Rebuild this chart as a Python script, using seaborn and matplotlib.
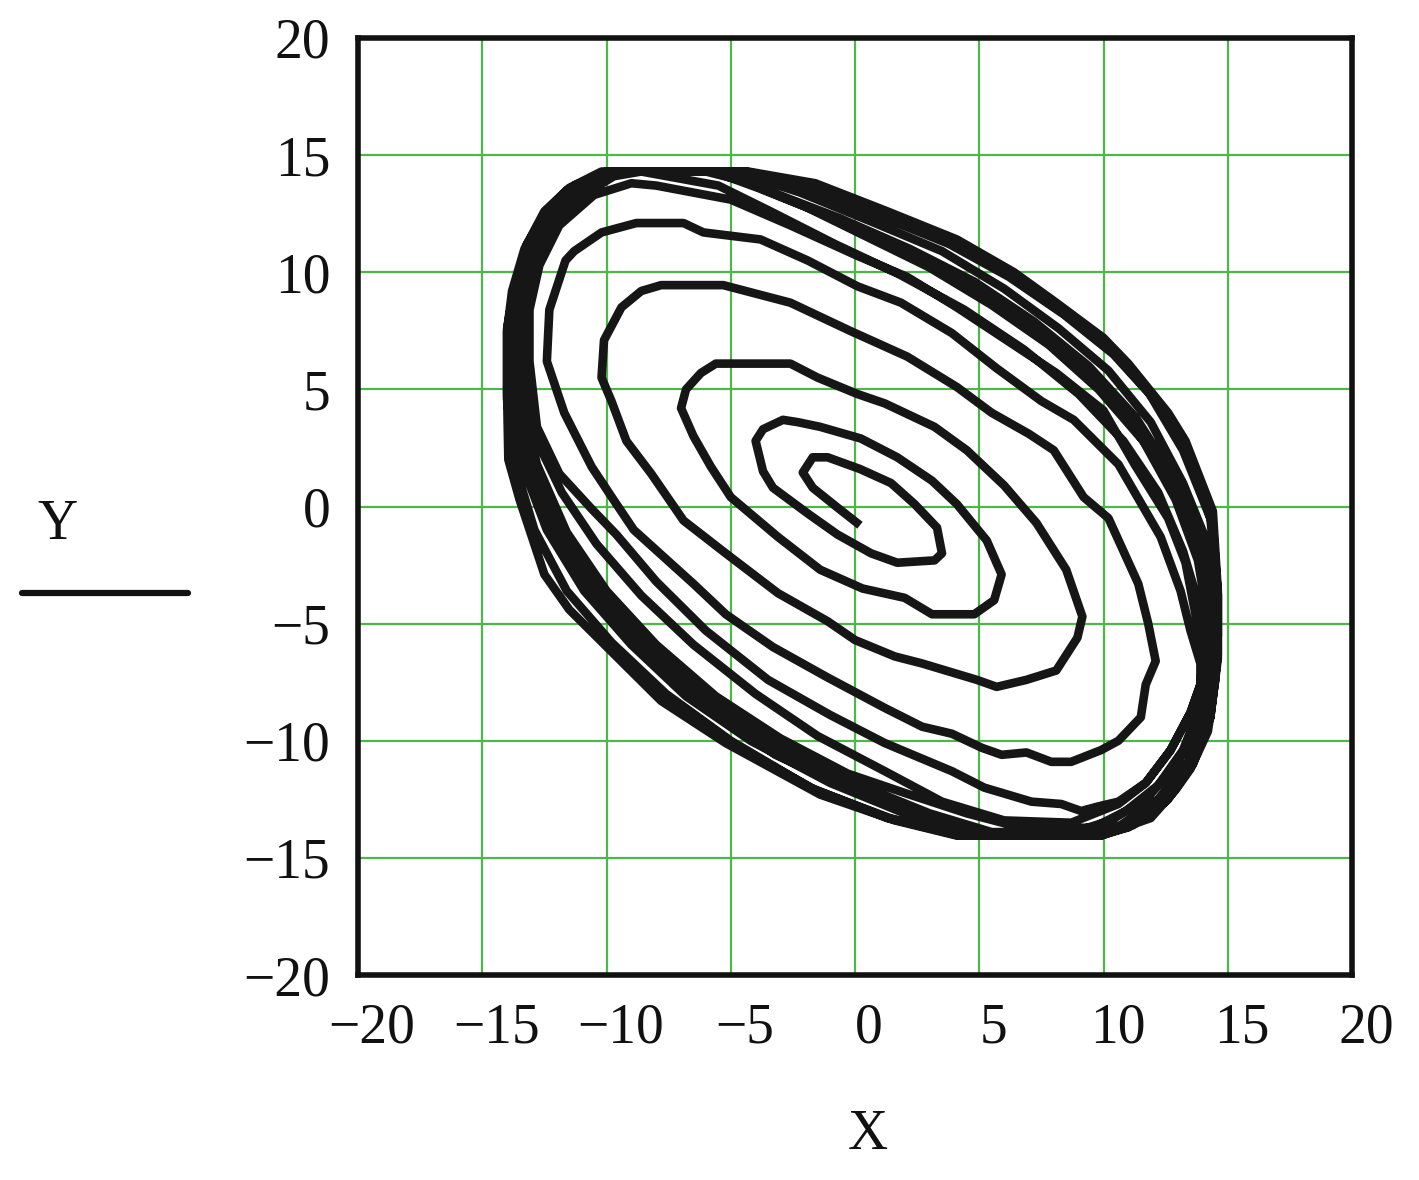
import numpy as np
import pandas as pd
import matplotlib
matplotlib.use("Agg")
import matplotlib.pyplot as plt
import matplotlib.transforms as mtransforms
from matplotlib.lines import Line2D
import seaborn as sns

# ---- data: spiral trajectory, read turn by turn (clockwise) ----
turn1_x = [0.2, -0.7, -1.7, -2.1, -1.7, -1.1, 0.2, 1.45, 2.4, 3.3, 3.5, 3.2, 1.7, 0.65, -0.7, -1.9, -3.3, -3.7, -4.0]
turn1_y = [-0.8, -0.05, 0.8, 1.45, 2.1, 2.1, 1.6, 1.0, 0.1, -0.9, -2.0, -2.3, -2.4, -2.0, -1.2, -0.3, 0.8, 1.5, 2.8]

turn2_x = [-3.7, -2.9, -2.3, -1.4, 0.24, 1.7, 3.1, 4.1, 5.3, 5.9, 5.6, 4.8, 3.1, 2.0, 0.3, -1.4, -3.1, -5.0, -5.8, -6.5, -7.0]
turn2_y = [3.3, 3.7, 3.6, 3.4, 2.9, 2.1, 1.1, 0.1, -1.45, -2.9, -4.0, -4.6, -4.6, -3.9, -3.5, -2.7, -1.3, 0.4, 1.7, 3.0, 4.2]

turn3_x = [-6.8, -6.2, -5.6, -2.6, -1.5, 0.1, 1.2, 3.2, 4.5, 6.0, 7.3, 8.5, 9.15, 8.95, 8.1, 6.9, 5.7, 4.9, 2.7, 1.6, 0.0, -1.1, -3.1, -5.2, -6.9, -8.2, -9.2, -9.8, -10.2]
turn3_y = [5.0, 5.7, 6.1, 6.1, 5.5, 4.8, 4.4, 3.4, 2.4, 0.9, -0.7, -2.7, -4.7, -5.6, -7.0, -7.4, -7.7, -7.4, -6.7, -6.4, -5.7, -4.9, -3.7, -2.0, -0.6, 1.4, 2.8, 4.5, 5.5]

turn4_x = [-10.1, -9.4, -8.6, -7.8, -5.3, -2.6, -0.2, 2.1, 4.1, 5.5, 7.0, 8.0, 9.2, 10.2, 11.4, 11.8, 12.1, 11.7, 11.5, 10.6, 9.9, 8.7, 7.9, 6.9, 5.9, 5.1, 3.9, 2.7, 1.2, -1.1, -3.3, -5.2, -6.5, -8.9, -9.7, -10.6, -11.7, -12.4]
turn4_y = [7.1, 8.5, 9.2, 9.45, 9.45, 8.7, 7.5, 6.4, 5.1, 4.0, 3.1, 2.4, 0.4, -0.5, -3.3, -5.0, -6.6, -7.6, -9.0, -10.0, -10.4, -10.9, -10.9, -10.5, -10.6, -10.3, -9.7, -9.4, -8.6, -7.3, -6.0, -4.6, -3.3, -1.0, 0.26, 1.7, 4.0, 6.2]

turn5_x = [-12.3, -11.65, -11.3, -10.2, -8.8, -6.9, -6.1, -3.8, -1.9, 0.1, 1.85, 3.9, 5.7, 7.5, 8.8, 10.6, 12.3, 13.1, 13.5, 13.9, 13.9, 13.5, 12.7, 11.7, 10.6, 9.8, 9.1, 8.3, 7.1, 5.2, 3.9, 1.2, -1.0, -3.5, -6.0, -8.0, -9.6, -10.6, -11.9, -12.8, -13.1]
turn5_y = [8.4, 10.5, 10.9, 11.7, 12.1, 12.1, 11.7, 11.4, 10.5, 9.4, 8.7, 7.4, 5.9, 4.5, 3.7, 1.8, -1.3, -3.6, -5.3, -6.7, -7.6, -8.8, -10.4, -11.8, -12.6, -12.8, -13.0, -12.7, -12.6, -12.0, -11.3, -10.1, -8.9, -7.4, -5.3, -3.2, -1.2, -0.1, 1.4, 3.4, 6.2]

turn6_x = [-13.1, -12.7, -11.9, -10.5, -9.0, -8.0, -5.0, -2.6, 0.1, 2.1, 4.1, 6.1, 8.1, 10.0, 11.25, 12.6, 13.3, 13.7, 14.0, 13.9, 13.5, 12.7, 11.7, 10.6, 8.7, 6.0, 3.5, 1.2, -1.5, -4.0, -6.5, -8.6, -10.4, -11.8, -12.8, -13.3]
turn6_y = [8.4, 10.3, 12.0, 13.3, 13.8, 13.7, 13.1, 12.0, 10.7, 9.8, 8.5, 7.1, 5.7, 4.1, 1.8, -0.5, -2.4, -4.6, -6.3, -7.6, -8.8, -10.4, -11.8, -12.7, -13.5, -13.4, -12.6, -11.3, -9.8, -8.0, -5.9, -3.8, -1.6, 0.6, 2.8, 5.0]

turn7_x = [-13.3, -13.0, -12.3, -11.1, -9.7, -8.6, -5.5, -3.4, -0.8, 1.8, 4.4, 6.8, 9.0, 10.8, 12.2, 13.2, 13.9, 14.1, 13.9, 13.2, 12.2, 10.9, 9.6, 7.0, 4.5, 2.2, -0.3, -3.0, -5.6, -8.0, -10.0, -11.6, -12.8, -13.4]
turn7_y = [8.0, 10.0, 11.8, 13.2, 14.1, 14.3, 13.7, 12.6, 11.2, 9.9, 8.4, 6.7, 4.8, 2.8, 0.6, -1.9, -4.4, -6.7, -8.5, -10.4, -11.9, -13.0, -13.7, -13.8, -13.1, -12.3, -11.4, -9.9, -8.1, -5.9, -3.6, -1.1, 1.8, 4.6]

turn8_x = [-13.5, -13.2, -12.6, -11.6, -10.3, -9.3, -6.0, -4.5, -2.0, 0.5, 3.0, 5.5, 7.8, 9.8, 11.6, 12.9, 13.8, 14.2, 14.3, 13.9, 13.0, 11.8, 10.3, 8.8, 5.5, 3.0, 0.2, -2.8, -5.4, -7.8, -9.9, -11.6, -12.9, -13.6]
turn8_y = [7.5, 9.8, 11.5, 12.9, 13.9, 14.3, 14.3, 13.9, 12.8, 11.5, 10.2, 8.6, 6.9, 5.0, 2.8, 0.3, -2.3, -4.8, -7.0, -9.0, -10.9, -12.4, -13.4, -13.9, -13.9, -13.1, -11.9, -10.3, -8.5, -6.5, -4.2, -1.6, 1.2, 4.0]

turn9_x = [-13.6, -13.3, -12.7, -11.7, -10.4, -9.4, -5.7, -3.9, -1.3, 1.4, 3.9, 6.4, 8.6, 10.6, 12.2, 13.5, 14.2, 14.4, 14.1, 13.4, 12.2, 10.7, 9.4, 5.3, 2.7, -0.1, -3.2, -5.8, -8.2, -10.3, -12.0, -13.1, -13.7]
turn9_y = [7.3, 9.6, 11.4, 12.9, 13.9, 14.3, 14.3, 13.6, 12.5, 11.2, 9.9, 8.2, 6.4, 4.3, 1.9, -0.9, -3.6, -6.3, -8.9, -10.9, -12.5, -13.6, -14.0, -14.0, -13.2, -12.1, -10.6, -8.7, -6.6, -4.2, -1.4, 1.5, 4.3]

turn10_x = [-13.7, -13.4, -12.8, -11.8, -10.5, -9.5, -5.4, -3.3, -0.6, 2.2, 4.8, 7.2, 9.4, 11.3, 12.8, 13.9, 14.4, 14.5, 14.2, 13.5, 12.3, 10.9, 9.6, 5.2, 2.5, -0.4, -3.5, -6.2, -8.6, -10.6, -12.2, -13.3, -13.8]
turn10_y = [7.2, 9.5, 11.4, 12.9, 14.0, 14.3, 14.3, 13.4, 12.3, 11.0, 9.6, 7.9, 6.0, 3.8, 1.3, -1.5, -4.4, -7.0, -9.2, -11.1, -12.7, -13.7, -14.0, -14.0, -13.2, -12.0, -10.2, -8.3, -6.1, -3.7, -1.1, 1.7, 4.5]

turn11_x = [-13.8, -13.6, -13.0, -12.0, -10.6, -9.6, -4.8, -2.2, 0.8, 3.5, 6.0, 8.2, 10.2, 11.9, 13.2, 14.2, 14.5, 14.5, 14.1, 13.3, 12.0, 10.5, 9.5, 5.0, 2.0, -1.0, -4.2, -6.8, -9.0, -10.9, -12.4, -13.4, -13.9]
turn11_y = [7.0, 9.2, 11.2, 12.8, 14.0, 14.3, 14.3, 13.4, 12.1, 10.9, 9.3, 7.6, 5.8, 3.6, 1.0, -1.6, -4.4, -7.0, -9.3, -11.2, -12.8, -13.8, -14.05, -14.05, -13.1, -11.8, -10.0, -8.1, -5.9, -3.6, -1.0, 1.8, 4.6]

turn12_x = [-14.0, -13.75, -13.2, -12.4, -11.6, -9.8, -4.3, -1.6, 1.3, 4.1, 6.4, 8.1, 10.0, 11.0, 12.6, 13.3, 14.4, 14.6, 14.6, 14.5, 14.2, 13.5, 12.9, 11.9, 9.9, 4.1, 1.6, -1.4, -5.2, -7.8, -9.6, -11.5, -12.5, -13.5, -13.95, -14.0]
turn12_y = [7.6, 9.1, 11.2, 12.6, 13.5, 14.3, 14.3, 13.8, 12.6, 11.4, 10.0, 8.7, 7.2, 6.1, 4.0, 2.8, -0.2, -3.6, -5.5, -7.4, -9.6, -11.2, -12.1, -13.3, -14.05, -14.05, -13.4, -12.3, -10.1, -8.3, -6.4, -4.4, -2.9, 0.3, 2.0, 4.8]

turn13_x = [-14.0, -13.7, -13.1, -12.2, -11.3, -10.0, -4.6, -1.8, 1.0, 3.8, 6.2, 8.4, 10.4, 12.2, 13.5, 14.4, 14.6, 14.6, 14.3, 13.6, 12.5, 11.0, 9.8, 4.3, 1.3, -1.8, -5.0, -7.6, -9.8, -11.6, -12.9, -13.7, -14.0, -14.0]
turn13_y = [7.4, 9.3, 11.3, 12.8, 13.7, 14.3, 14.3, 13.6, 12.4, 11.2, 9.8, 8.2, 6.5, 4.4, 2.0, -0.8, -3.8, -6.5, -9.0, -10.9, -12.6, -13.7, -14.05, -14.05, -13.3, -12.0, -10.0, -8.0, -5.8, -3.6, -1.0, 1.8, 4.6, 7.0]

turn14_x = [-14.0, -13.8, -13.3, -12.5, -11.5, -10.2, -4.4, -1.7, 1.2, 4.0, 6.3, 8.3, 10.2, 11.8, 13.2, 14.3, 14.6, 14.6, 14.3, 13.6, 12.6, 11.2, 9.9, 4.2, 1.4, -1.6, -4.8, -7.4]
turn14_y = [7.5, 9.2, 11.0, 12.6, 13.6, 14.3, 14.3, 13.7, 12.5, 11.3, 9.9, 8.4, 6.8, 4.9, 2.4, -0.5, -3.7, -6.3, -9.0, -11.0, -12.5, -13.6, -14.05, -14.05, -13.3, -12.1, -10.2, -8.2]

x_ticks = [-20, -15, -10, -5, 0, 5, 10, 15, 20]
y_ticks = [-20, -15, -10, -5, 0, 5, 10, 15, 20]

turns_x = [turn1_x, turn2_x, turn3_x, turn4_x, turn5_x, turn6_x, turn7_x,
           turn8_x, turn9_x, turn10_x, turn11_x, turn12_x, turn13_x, turn14_x]
turns_y = [turn1_y, turn2_y, turn3_y, turn4_y, turn5_y, turn6_y, turn7_y,
           turn8_y, turn9_y, turn10_y, turn11_y, turn12_y, turn13_y, turn14_y]
xs = [v for t in turns_x for v in t]
ys = [v for t in turns_y for v in t]
df = pd.DataFrame({"X": xs, "Y": ys})

# ---- style ----
sns.set_theme(style="white")
plt.rcParams["font.family"] = ["Liberation Serif", "DejaVu Serif"]
plt.rcParams["axes.unicode_minus"] = True

W, H = 1419, 1180
fig = plt.figure(figsize=(W / 100, H / 100), dpi=100)
fig.patch.set_facecolor("white")
L, R, T, B = 358, 1352, 38, 975
ax = fig.add_axes([L / W, 1 - B / H, (R - L) / W, (B - T) / H])

ink = "#161616"
green = "#4db848"

sns.lineplot(data=df, x="X", y="Y", sort=False, estimator=None, ax=ax,
             color=ink, linewidth=6.2, solid_joinstyle="round",
             solid_capstyle="butt", zorder=3)

ax.set_xlim(-20, 20)
ax.set_ylim(-20, 20)
ax.set_xticks(x_ticks)
ax.set_yticks(y_ticks)
ax.grid(True, color=green, linewidth=1.6)
ax.set_axisbelow(True)
for s in ax.spines.values():
    s.set_visible(True)
    s.set_color("#111111")
    s.set_linewidth(4.0)
    s.set_zorder(5)

ax.tick_params(axis="both", length=0, labelsize=40, colors="#111111")
ax.tick_params(axis="y", pad=20)
ax.tick_params(axis="x", pad=20)

off = mtransforms.ScaledTranslation(14 / 100, 0, fig.dpi_scale_trans)
for lab in ax.get_xticklabels():
    lab.set_transform(lab.get_transform() + off)

ax.set_xlabel("X", fontsize=40, color="#111111")
ax.xaxis.set_label_coords((868 - L) / (R - L), (B - 1135) / (B - T))
ax.xaxis.label.set_va("center")
ax.set_ylabel("Y", fontsize=40, color="#111111", rotation=0)
ax.yaxis.set_label_coords((57 - L) / (R - L), (B - 525) / (B - T))
ax.yaxis.label.set_va("center")
ax.yaxis.label.set_ha("center")

# legend trace sample under the Y label
fig.add_artist(Line2D([22 / W, 188 / W], [1 - 593 / H, 1 - 593 / H],
                      transform=fig.transFigure, color="#111111", linewidth=4.5))

fig.savefig("out.png", dpi=100, facecolor="white")
